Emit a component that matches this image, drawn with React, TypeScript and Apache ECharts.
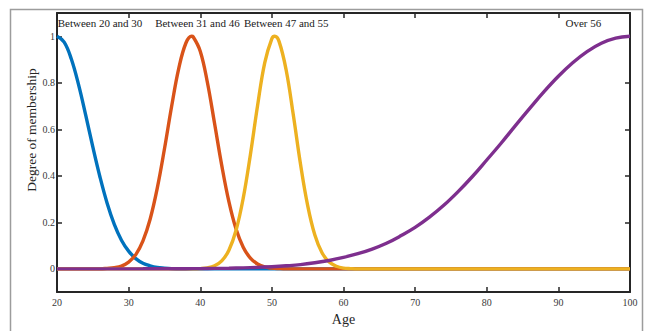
import React, { useEffect, useRef } from "react";
import * as echarts from "echarts";

// Membership curves, degree of membership read at each age
const blueAges = [20, 21, 22, 23, 24, 25, 26, 27, 28, 29, 30, 31, 32, 33, 34, 35, 36, 37, 38, 100];
const blueValues = [1, 0.975, 0.902, 0.793, 0.662, 0.524, 0.395, 0.282, 0.191, 0.123, 0.076, 0.044, 0.024, 0.013, 0.006, 0.003, 0.001, 0.0005, 0, 0];

const orangeAges = [20, 26, 27, 28, 29, 30, 31, 32, 33, 34, 35, 36, 37, 38, 38.8, 39, 40, 41, 42, 43, 44, 45, 46, 47, 48, 49, 50, 51, 52, 100];
const orangeValues = [0, 0, 0.002, 0.005, 0.012, 0.029, 0.061, 0.12, 0.213, 0.347, 0.515, 0.698, 0.862, 0.971, 1, 0.998, 0.936, 0.801, 0.625, 0.445, 0.289, 0.171, 0.093, 0.046, 0.021, 0.008, 0.003, 0.001, 0, 0];

const yellowAges = [20, 39, 40, 41, 42, 43, 44, 45, 46, 47, 48, 49, 50, 50.4, 51, 52, 53, 54, 55, 56, 57, 58, 59, 60, 61, 62, 100];
const yellowValues = [0, 0, 0.001, 0.004, 0.013, 0.034, 0.08, 0.166, 0.304, 0.491, 0.701, 0.886, 0.99, 1, 0.978, 0.854, 0.66, 0.45, 0.272, 0.145, 0.069, 0.029, 0.011, 0.003, 0.001, 0, 0];

const purpleAges = [20, 30, 32, 34, 36, 38, 40, 42, 44, 46, 48, 50, 52, 54, 56, 58, 60, 62, 64, 66, 68, 70, 72, 74, 76, 78, 80, 82, 84, 86, 88, 90, 92, 94, 96, 98, 100];
const purpleValues = [0, 0, 0.0001, 0.0003, 0.0004, 0.0007, 0.0011, 0.0018, 0.0027, 0.0041, 0.0062, 0.0091, 0.013, 0.018, 0.026, 0.036, 0.049, 0.065, 0.085, 0.11, 0.142, 0.178, 0.222, 0.273, 0.332, 0.397, 0.468, 0.54, 0.616, 0.69, 0.762, 0.828, 0.886, 0.934, 0.97, 0.992, 1];

// Category captions along the top of the plot, anchored at these ages
const bandLabels = ["Between 20 and 30", "Between 31 and 46", "Between 47 and 55", "Over 56"];
const bandLabelAges = [20.1, 33.7, 46.1, 91];
const bandLabelLevel = 1.055;

const yTicks = [0, 0.2, 0.4, 0.6, 0.8, 1];

const SERIF = "'Liberation Serif', 'Times New Roman', serif";
const AXIS_COLOR = "#262626";

const pairs = (xs: number[], ys: number[]) => xs.map((x, i) => [x, ys[i]]);

export default function App() {
  const ref = useRef<HTMLDivElement>(null);

  useEffect(() => {
    if (!ref.current) return;
    const chart = echarts.init(ref.current, undefined, { renderer: "svg" });

    const lineSeries = (name: string, color: string, data: number[][]) => ({
      name,
      type: "line",
      data,
      showSymbol: false,
      symbol: "none",
      smooth: 0.4,
      lineStyle: { color, width: 3.4 },
      xAxisIndex: 0,
      yAxisIndex: 0,
    });

    const axisLine = { show: true, onZero: false, lineStyle: { color: AXIS_COLOR, width: 2 } };
    const tick = { show: true, inside: true, length: 5, lineStyle: { color: AXIS_COLOR, width: 1.5 } };

    chart.setOption({
      animation: false,
      backgroundColor: "#ffffff",
      grid: { left: 57, right: 16, top: 13, bottom: 31.5, containLabel: false },
      xAxis: [
        {
          type: "value",
          min: 20,
          max: 100,
          interval: 10,
          position: "bottom",
          axisLine,
          axisTick: tick,
          splitLine: { show: false },
          axisLabel: { color: "#3a3a3a", fontSize: 10, fontFamily: SERIF, margin: 5 },
          name: "Age",
          nameLocation: "middle",
          nameGap: 19,
          nameTextStyle: { color: AXIS_COLOR, fontSize: 14, fontFamily: SERIF },
        },
        {
          type: "value",
          min: 20,
          max: 100,
          interval: 10,
          position: "top",
          axisLine,
          axisTick: tick,
          splitLine: { show: false },
          axisLabel: { show: false },
        },
      ],
      yAxis: [
        {
          type: "value",
          min: -0.1,
          max: 1.1,
          position: "left",
          axisLine,
          axisTick: { ...tick, customValues: yTicks },
          splitLine: { show: false },
          axisLabel: {
            customValues: yTicks,
            color: "#3a3a3a",
            fontSize: 10,
            fontFamily: SERIF,
            margin: 2,
            formatter: (v: number) => String(v),
          },
        },
        {
          type: "value",
          min: -0.1,
          max: 1.1,
          position: "right",
          axisLine,
          axisTick: { ...tick, customValues: yTicks },
          splitLine: { show: false },
          axisLabel: { show: false },
        },
      ],
      series: [
        lineSeries("Between 20 and 30", "#0072BD", pairs(blueAges, blueValues)),
        lineSeries("Between 31 and 46", "#D95319", pairs(orangeAges, orangeValues)),
        lineSeries("Between 47 and 55", "#EDB120", pairs(yellowAges, yellowValues)),
        lineSeries("Over 56", "#7E2F8E", pairs(purpleAges, purpleValues)),
      ],
    });

    // Place captions and the figure frame once the scales exist
    const captions = bandLabels.map((text, i) => {
      const [px, py] = chart.convertToPixel({ xAxisIndex: 0, yAxisIndex: 0 }, [bandLabelAges[i], bandLabelLevel]) as number[];
      return {
        type: "text",
        x: px,
        y: py,
        style: {
          text,
          fill: "#1a1a1a",
          font: `11px ${SERIF}`,
          textAlign: "left",
          textVerticalAlign: "middle",
        },
        z: 10,
      };
    });

    chart.setOption({
      graphic: [
        {
          type: "rect",
          shape: { x: 10.5, y: 9.5, width: 632, height: 400 },
          style: { fill: "none", stroke: "#9c9c9c", lineWidth: 1.5 },
          silent: true,
          z: 1,
        },
        {
          type: "text",
          x: 31,
          y: 130,
          rotation: Math.PI / 2,
          style: {
            text: "Degree of membership",
            fill: AXIS_COLOR,
            font: `13.5px ${SERIF}`,
            textAlign: "center",
            textVerticalAlign: "middle",
          },
          z: 10,
        },
        ...captions,
      ],
    });

    return () => chart.dispose();
  }, []);

  return (
    <div
      ref={ref}
      style={{ position: "fixed", left: 0, top: 0, width: 646, height: 331, background: "#fff" }}
    />
  );
}
